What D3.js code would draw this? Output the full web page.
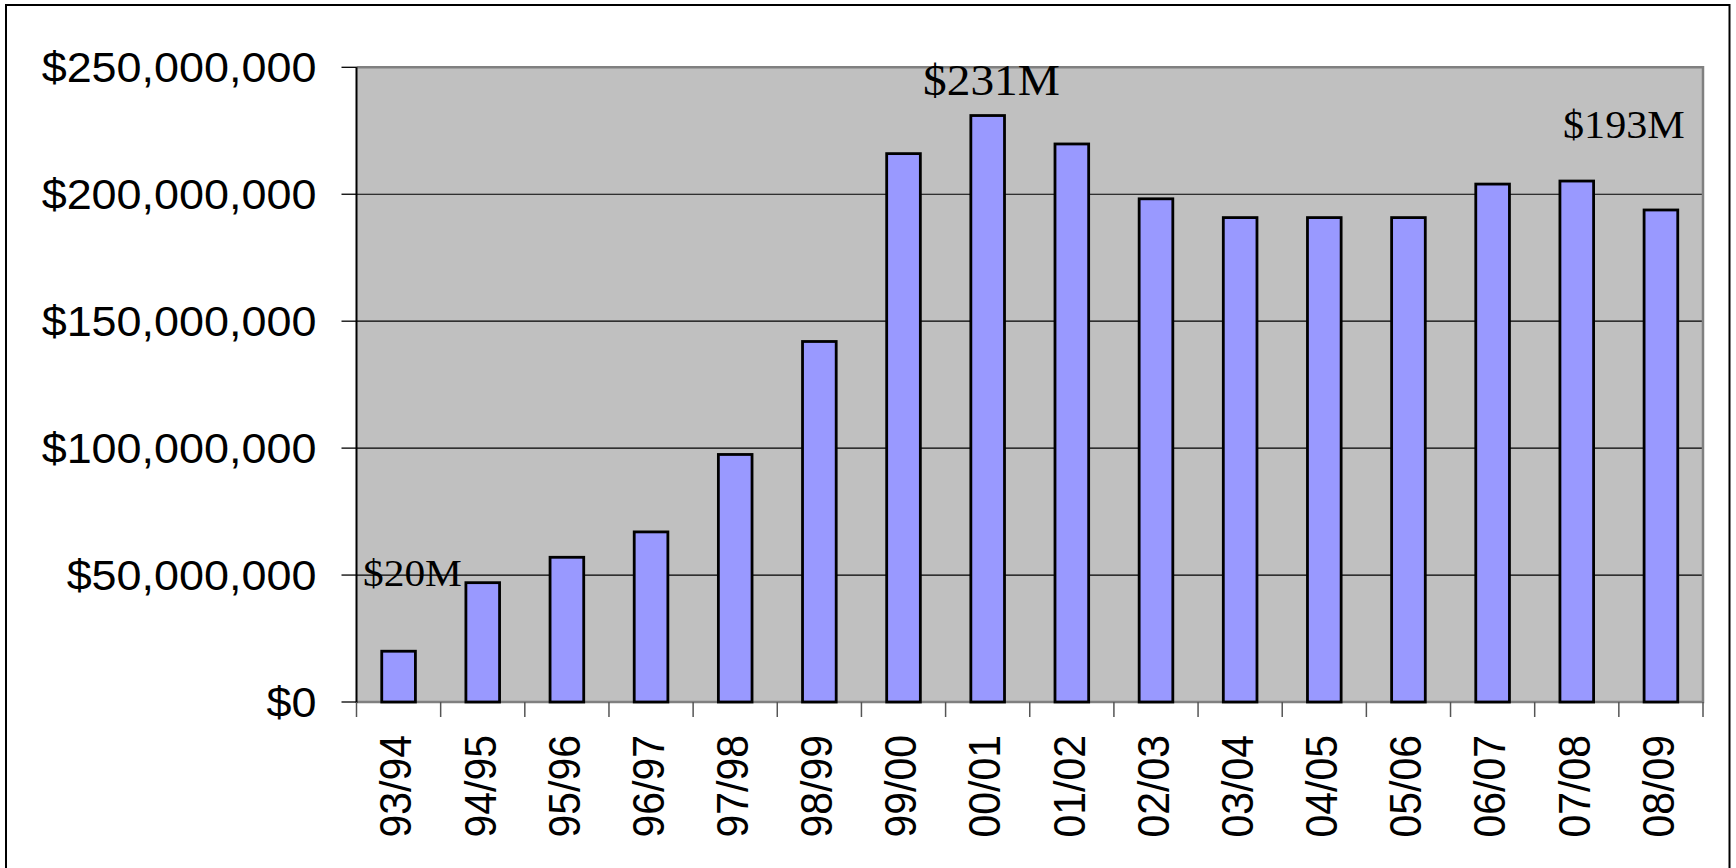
<!DOCTYPE html>
<html>
<head>
<meta charset="utf-8">
<script src="https://cdn.jsdelivr.net/npm/d3@7"></script>
<style>
html,body{margin:0;padding:0;background:#fff;}
svg{display:block;}
</style>
</head>
<body>
<svg id="chart" width="1736" height="868"></svg>
<script>
const categories = ["93/94","94/95","95/96","96/97","97/98","98/99","99/00","00/01","01/02","02/03","03/04","04/05","05/06","06/07","07/08","08/09"];
const values = [20, 47, 57, 67, 97.5, 142, 216, 231, 219.8, 198.2, 190.8, 190.8, 190.8, 204, 205.2, 193.8]; // millions
const yTicks = [0, 50, 100, 150, 200, 250];
const yTickLabels = ["$0","$50,000,000","$100,000,000","$150,000,000","$200,000,000","$250,000,000"];
const annotations = [
  {label:"$20M", cat:"93/94", size:38.7},
  {label:"$231M", cat:"00/01", size:44.3},
  {label:"$193M", cat:"08/09", size:39.4}
];

const svg = d3.select("#chart");
const L = 356.5, R = 1703, T = 67.3, B = 702;
const sx = 1.07;

// outer frame
svg.append("rect").attr("x",6).attr("y",5).attr("width",1723.5).attr("height",900)
  .attr("fill","#fff").attr("stroke","#000").attr("stroke-width",2);

const x = d3.scaleBand().domain(categories).range([L,R]).paddingInner(0.6).paddingOuter(0.3);
const y = d3.scaleLinear().domain([0,250]).range([B,T]);

// plot background
svg.append("rect").attr("x",L).attr("y",T).attr("width",R-L).attr("height",B-T).attr("fill","#C0C0C0");

// gridlines
svg.append("g").selectAll("line").data(yTicks.filter(v=>v>0 && v<250)).join("line")
  .attr("x1",L).attr("x2",R).attr("y1",d=>y(d)).attr("y2",d=>y(d))
  .attr("stroke","#000").attr("stroke-width",1.2);

// plot border top/right/bottom gray
svg.append("path").attr("d",`M${L},${T}H${R}V${B}H${L}`).attr("fill","none")
  .attr("stroke","#808080").attr("stroke-width",2.5);

// bars
svg.append("g").selectAll("rect").data(categories).join("rect")
  .attr("x",d=>x(d)).attr("width",x.bandwidth())
  .attr("y",(d,i)=>y(values[i])).attr("height",(d,i)=>y(0)-y(values[i]))
  .attr("fill","#9999FF").attr("stroke","#000").attr("stroke-width",2.8);

// y axis line & ticks
svg.append("line").attr("x1",L).attr("x2",L).attr("y1",T).attr("y2",B+1)
  .attr("stroke","#000").attr("stroke-width",2);
svg.append("g").selectAll("line").data(yTicks).join("line")
  .attr("x1",L-15).attr("x2",L).attr("y1",d=>y(d)).attr("y2",d=>y(d))
  .attr("stroke","#000").attr("stroke-width",1.3);
svg.append("g").selectAll("text").data(yTicks).join("text")
  .attr("transform",d=>`translate(${L-40},${y(d)}) scale(${sx},1)`)
  .attr("text-anchor","end").attr("dy","0.36em")
  .attr("font-family","'Liberation Sans', Arial, sans-serif").attr("font-size",42)
  .attr("fill","#000").text((d,i)=>yTickLabels[i]);

// x ticks at band boundaries
const x0 = L + x.step()*0; 
const bounds = d3.range(categories.length+1).map(i => L + i*(R-L)/categories.length);
svg.append("g").selectAll("line").data(bounds).join("line")
  .attr("x1",d=>d).attr("x2",d=>d).attr("y1",B).attr("y2",B+15)
  .attr("stroke","#555").attr("stroke-width",1.5);

// x labels
svg.append("g").selectAll("text").data(categories).join("text")
  .attr("transform",d=>`translate(${x(d)+x.bandwidth()/2-3},735) scale(${sx},1) rotate(-90)`)
  .attr("text-anchor","end").attr("dy","0.36em")
  .attr("font-family","'Liberation Sans', Arial, sans-serif").attr("font-size",41)
  .attr("fill","#000").text(d=>d);

// annotations
const annPos = {"93/94":[363,586], "00/01":[923,95], "08/09":[1563,138]};
svg.append("g").selectAll("text").data(annotations).join("text")
  .attr("transform",d=>`translate(${annPos[d.cat][0]},${annPos[d.cat][1]}) scale(${sx},1)`)
  .attr("font-family","'Liberation Serif', 'Times New Roman', serif")
  .attr("font-size",d=>d.size).attr("fill","#000").text(d=>d.label);
</script>
</body>
</html>
